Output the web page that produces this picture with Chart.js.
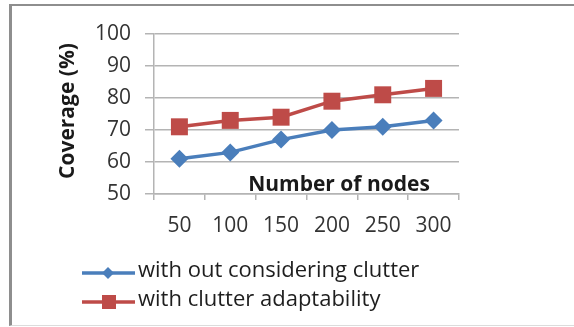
<!DOCTYPE html>
<html>
<head>
<meta charset="utf-8">
<script src="https://cdn.jsdelivr.net/npm/chart.js@4/dist/chart.umd.min.js"></script>
<style>
  html, body { margin: 0; padding: 0; background: #fff; width: 574px; height: 327px; overflow: hidden; }
  #frame { position: absolute; left: 9px; top: 4px; width: 620px; height: 319px;
           border-left: 3px solid #8e8e8e; border-top: 2px solid #8e8e8e; border-bottom: 1px solid #dcdcdc; }
  #wrap { position: absolute; left: 0; top: 0; width: 574px; height: 327px; }
</style>
</head>
<body>
<div id="frame"></div>
<div id="wrap"><canvas id="c" width="574" height="327"></canvas></div>
<script>
// Coverage versus network size, with and without clutter adaptation
const nodeCounts = ['50', '100', '150', '200', '250', '300'];
const coverageWithoutClutter = [61, 63, 67, 70, 71, 73];
const coverageClutterAdaptive = [71, 73, 74, 79, 81, 83];
const yMin = 50, yMax = 100, yStep = 10;
const seriesNames = ['with out considering clutter', 'with clutter adaptability'];
const xTitle = 'Number of nodes';
const yTitle = 'Coverage (%)';

const FONT = '"Open Sans", "Noto Sans", sans-serif';
const BLUE = '#4a7ebb';
const RED = '#be4b48';
const GRID = '#b4b4b4';

// Axis titles and the stacked legend below the plot
const decorations = {
  id: 'decorations',
  afterDraw(chart) {
    const ctx = chart.ctx;
    const area = chart.chartArea;
    ctx.save();
    ctx.fillStyle = '#1a1a1a';
    ctx.font = 'bold 21px ' + FONT;
    ctx.textAlign = 'center';
    ctx.textBaseline = 'middle';
    ctx.fillText(xTitle, 339, 185);

    ctx.translate(68, (area.top + area.bottom) / 2 - 3);
    ctx.rotate(-Math.PI / 2);
    ctx.fillText(yTitle, 0, 0);
    ctx.restore();

    // legend rows
    const rows = [273, 302];
    chart.data.datasets.forEach((ds, i) => {
      const y = rows[i];
      ctx.save();
      ctx.strokeStyle = ds.borderColor;
      ctx.lineWidth = 3.5;
      ctx.beginPath();
      ctx.moveTo(82, y);
      ctx.lineTo(135, y);
      ctx.stroke();
      ctx.fillStyle = ds.backgroundColor;
      ctx.beginPath();
      if (ds.pointStyle === 'rectRot') {
        ctx.moveTo(108, y - 6); ctx.lineTo(114, y); ctx.lineTo(108, y + 6); ctx.lineTo(102, y);
      } else {
        ctx.rect(102, y - 7, 14, 14);
      }
      ctx.closePath();
      ctx.fill();
      ctx.fillStyle = '#1e1e1e';
      ctx.font = '22px ' + FONT;
      ctx.textAlign = 'left';
      ctx.textBaseline = 'middle';
      ctx.fillText(ds.label, 138, y - 2);
      ctx.restore();
    });
  }
};

new Chart(document.getElementById('c'), {
  type: 'line',
  data: {
    labels: nodeCounts,
    datasets: [
      {
        label: seriesNames[0],
        data: coverageWithoutClutter,
        borderColor: BLUE,
        backgroundColor: BLUE,
        borderWidth: 3.5,
        pointStyle: 'rectRot',
        pointRadius: 9,
        pointBorderWidth: 0,
        tension: 0
      },
      {
        label: seriesNames[1],
        data: coverageClutterAdaptive,
        borderColor: RED,
        backgroundColor: RED,
        borderWidth: 3.5,
        pointStyle: 'rect',
        pointRadius: 12,
        pointBorderWidth: 0,
        tension: 0
      }
    ]
  },
  options: {
    responsive: false,
    animation: false,
    devicePixelRatio: 1,
    layout: { padding: { top: 34, right: 115, left: 0, bottom: 0 } },
    plugins: { legend: { display: false }, tooltip: { enabled: false } },
    scales: {
      x: {
        type: 'category',
        offset: true,
        grid: { offset: true, drawOnChartArea: false, drawTicks: true, tickLength: 6, color: GRID, lineWidth: 1.5 },
        border: { color: GRID, width: 1.5 },
        ticks: { font: { family: FONT, size: 21 }, color: '#333333', padding: 13, maxRotation: 0 },
        afterFit(scale) { scale.height = 133; }
      },
      y: {
        min: yMin,
        max: yMax,
        grid: { color: GRID, lineWidth: 1.5, tickLength: 9 },
        border: { color: GRID, width: 1.5 },
        ticks: { stepSize: yStep, font: { family: FONT, size: 21 }, color: '#333333', padding: 14 },
        afterFit(scale) { scale.width = 154; }
      }
    }
  },
  plugins: [decorations]
});
</script>
</body>
</html>
